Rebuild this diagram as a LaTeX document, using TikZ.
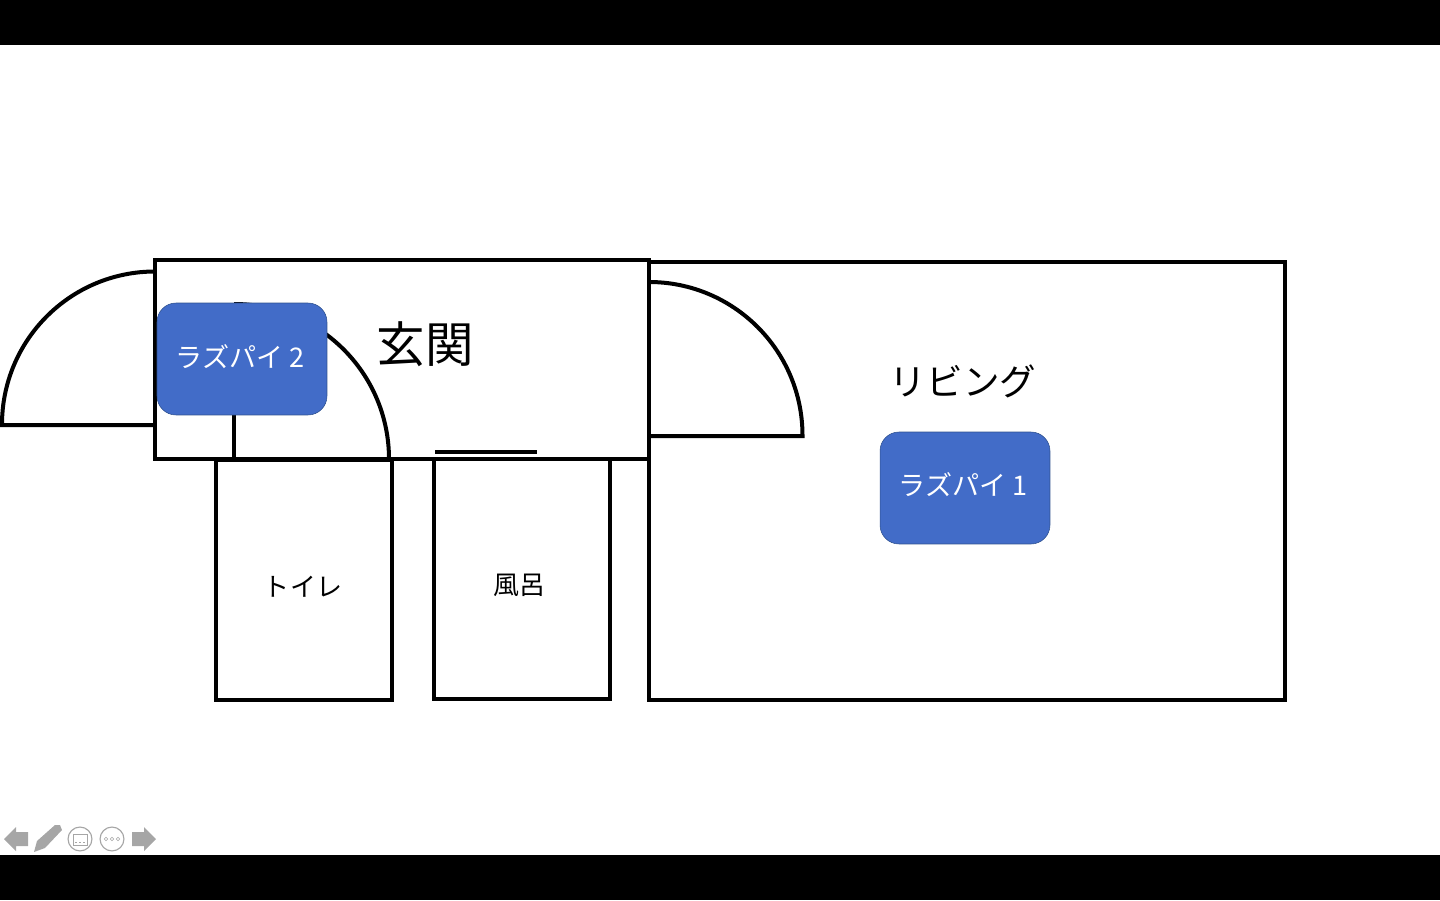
\documentclass[tikz,border=0pt]{standalone}
\usepackage{fontspec}
\setmainfont{Noto Sans CJK JP}
\usepackage{xcolor}
\definecolor{piblue}{RGB}{66,108,200}
\definecolor{piedge}{RGB}{47,82,143}
\definecolor{icongray}{RGB}{166,166,166}
\newcommand{\pxfont}[1]{\fontsize{#1}{#1}\selectfont}
\tikzset{
  wall/.style={draw=black,line width=5.7pt,inner sep=0pt,outer sep=0pt,anchor=north west},
  doorline/.style={draw=black,line width=5.7pt,line join=miter},
  pibox/.style={draw=piedge,line width=0.8pt,fill=piblue,rounded corners=27pt,text=white,
    minimum width=241.8pt,minimum height=159.3pt,inner sep=0pt,font=\pxfont{38.5}},
  roomlabel/.style={inner sep=0pt,text=black},
  iconfill/.style={fill=icongray,draw=none},
  iconring/.style={draw=icongray,line width=1.6pt,fill=white,circle,minimum size=34pt,inner sep=0pt}
}
\begin{document}
\begin{tikzpicture}[x=0.05cm,y=-0.05cm]
  \useasboundingbox (0,0) rectangle (1440,900);
  % Black bands
  \fill[black] (0,0) rectangle (1440,45);
  \fill[black] (0,855) rectangle (1440,900);
  % Rooms
  \node[wall,minimum width=905pt,minimum height=622.8pt] (living) at (649,262) {};
  \node[wall,minimum width=702.8pt,minimum height=283pt] (hall) at (155,260) {};
  \node[wall,minimum width=250.4pt,minimum height=342.8pt] (toilet) at (216,459.5) {};
  \node[wall,minimum width=250.4pt,minimum height=341.4pt] (bath) at (434,459) {};
  % Doors
  \coordinate (outerhinge) at (155,425);
  \draw[doorline] (155,271.5) arc[start angle=-90,end angle=-180,radius=153] -- (2,425) -- (outerhinge);
  \coordinate (innerfoot) at (234,459);
  \draw[doorline] (234,304) arc[start angle=-90,end angle=0,radius=155] -- (389,459);
  \draw[doorline] (234,400) -- (innerfoot);
  \coordinate (livinghinge) at (649,436);
  \draw[doorline] (649,282) arc[start angle=-90,end angle=0,radius=153.5] -- (802.5,436) -- (livinghinge);
  \coordinate (sillleft) at (435,451.5);
  \coordinate (sillright) at (537,451.5);
  \draw[doorline] (sillleft) -- (sillright);
  % Raspberry Pi boxes
  \node[pibox] (pitwo) at (242,359) {\raisebox{9.5pt}{ラズパイ 2}\kern5.6pt};
  \node[pibox] (pione) at (965,488) {\raisebox{11.5pt}{ラズパイ 1}\kern5.6pt};
  % Room names
  \node[roomlabel,font=\pxfont{69}] (hallname) at (425,344) {玄関};
  \node[roomlabel,font=\pxfont{52}] (livingname) at (963,381) {リビング};
  \node[roomlabel,font=\pxfont{37}] (toiletname) at (303,587) {トイレ};
  \node[roomlabel,font=\pxfont{37}] (bathname) at (519,585) {風呂};
  % Slide toolbar
  \fill[iconfill] (4,839) -- (16,827) -- (16,832) -- (28,832) -- (28,846) -- (16,846) -- (16,851) -- cycle;
  \fill[iconfill] (156,839) -- (144,827) -- (144,832) -- (132,832) -- (132,846) -- (144,846) -- (144,851) -- cycle;
  \fill[iconfill] (34,852) -- (37,841) -- (55,825) -- (60,825) -- (62,830) -- (45,848) -- cycle;
  \node[iconring] (subicon) at (80,839) {};
  \draw[icongray,line width=0.8pt] (73,834) rectangle (87,845);
  \draw[icongray,line width=0.8pt,dashed] (75,842) -- (85,842);
  \node[iconring] (moreicon) at (112,839) {};
  \foreach \dotx in {106,112,118}
    \draw[icongray,line width=0.8pt] (\dotx,839) circle (1.8);
\end{tikzpicture}
\end{document}
